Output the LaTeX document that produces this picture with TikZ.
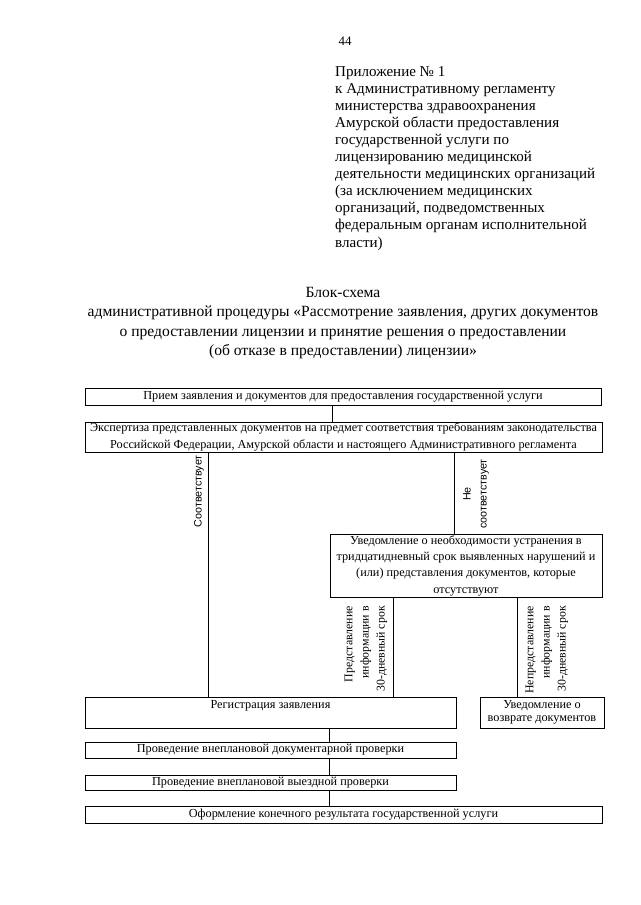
\documentclass[tikz,border=0pt]{standalone}
\usepackage{fontspec}
\setmainfont{Liberation Serif}
\newfontfamily\sansfont{Liberation Sans}
\usetikzlibrary{positioning}

\newcommand{\px}{0.9302pt}

\tikzset{
  procbox/.style={draw, line width=0.6pt, inner sep=0pt, align=center,
    font=\fontsize{11.4}{14}\selectfont},
  vlabel/.style={rotate=90, inner sep=0pt, font=\fontsize{11}{15}\selectfont},
  slabel/.style={rotate=90, inner sep=0pt, font=\sansfont\fontsize{10}{15}\selectfont},
  link/.style={line width=0.6pt}
}

\begin{document}
\begin{tikzpicture}[x=\px, y=-\px]
\useasboundingbox (0,0) rectangle (640,905);

% Page number and appendix header
\node (pagenum) at (345,41) {\fontsize{12}{14}\selectfont 44};
\node[anchor=north west, align=left, inner sep=0pt,
      font=\fontsize{14}{15.9}\selectfont] (appendix) at (335,66)
  {Приложение № 1\\
   к Административному регламенту\\
   министерства здравоохранения\\
   Амурской области предоставления\\
   государственной услуги по\\
   лицензированию медицинской\\
   деятельности медицинских организаций\\
   (за исключением медицинских\\
   организаций, подведомственных\\
   федеральным органам исполнительной\\
   власти)};

% Title
\node[align=center, inner sep=0pt, font=\fontsize{14.5}{17.9}\selectfont] (title) at (343,323)
  {Блок-схема\\
   административной процедуры «Рассмотрение заявления, других документов\\
   о предоставлении лицензии и принятие решения о предоставлении\\
   (об отказе в предоставлении) лицензии»};

% Boxes
\node[procbox, minimum width=516*\px, minimum height=17*\px] (recv) at (343,396.5)
  {Прием заявления и документов для предоставления государственной услуги};
\node[procbox, minimum width=517*\px, minimum height=30*\px,
      font=\fontsize{11.4}{16.5}\selectfont] (exam) at (343.5,437)
  {Экспертиза представленных документов на предмет соответствия требованиям законодательства\\
   Российской Федерации, Амурской области и настоящего Административного регламента};
\node[procbox, minimum width=272*\px, minimum height=63*\px,
      font=\fontsize{11.4}{15.2}\selectfont] (notif) at (466,565.5)
  {Уведомление о необходимости устранения в\\
   тридцатидневный срок выявленных нарушений и\\
   (или) представления документов, которые\\
   отсутствуют};
\node[procbox, minimum width=371*\px, minimum height=31*\px,
      text height=11pt, text depth=17.8pt] (reg) at (270.5,712.5)
  {Регистрация заявления};
\node[procbox, minimum width=124*\px, minimum height=31*\px,
      font=\fontsize{11.4}{12.5}\selectfont] (ret) at (542,712.5)
  {Уведомление о\\возврате документов};
\node[procbox, minimum width=371*\px, minimum height=16*\px] (doc) at (270.5,750)
  {Проведение внеплановой документарной проверки};
\node[procbox, minimum width=371*\px, minimum height=15*\px] (field) at (270.5,782.5)
  {Проведение внеплановой выездной проверки};
\node[procbox, minimum width=517*\px, minimum height=17*\px] (final) at (343.5,814.5)
  {Оформление конечного результата государственной услуги};

% Connector positions
\coordinate (spine) at (332,0);
\coordinate (spinelow) at (329,0);
\coordinate (yesline) at (208,0);
\coordinate (noline) at (454,0);
\coordinate (presline) at (393,0);
\coordinate (nopresline) at (517,0);

% Connectors
\draw[link] (recv.south -| spine) -- (exam.north -| spine);
\draw[link] (exam.south -| yesline) -- (reg.north -| yesline);
\draw[link] (exam.south -| noline) -- (notif.north -| noline);
\draw[link] (notif.south -| presline) -- (reg.north -| presline);
\draw[link] (notif.south -| nopresline) -- (ret.north -| nopresline);
\draw[link] (reg.south -| spinelow) -- (doc.north -| spinelow);
\draw[link] (doc.south -| spinelow) -- (field.north -| spinelow);
\draw[link] (field.south -| spinelow) -- (final.north -| spinelow);

% Labels on connectors
\node[slabel, anchor=east] (yeslbl) at (199,455) {Соответствует};
\node[slabel, align=center] (nolbl) at (476,494) {Не\\соответствует};
\node[vlabel, align=right, anchor=east] (preslbl) at (366,606)
  {Представление\\информации в\\30-дневный срок};
\node[vlabel, align=right, anchor=east] (nopreslbl) at (547,606)
  {Непредставление\\информации в\\30-дневный срок};

\end{tikzpicture}
\end{document}
